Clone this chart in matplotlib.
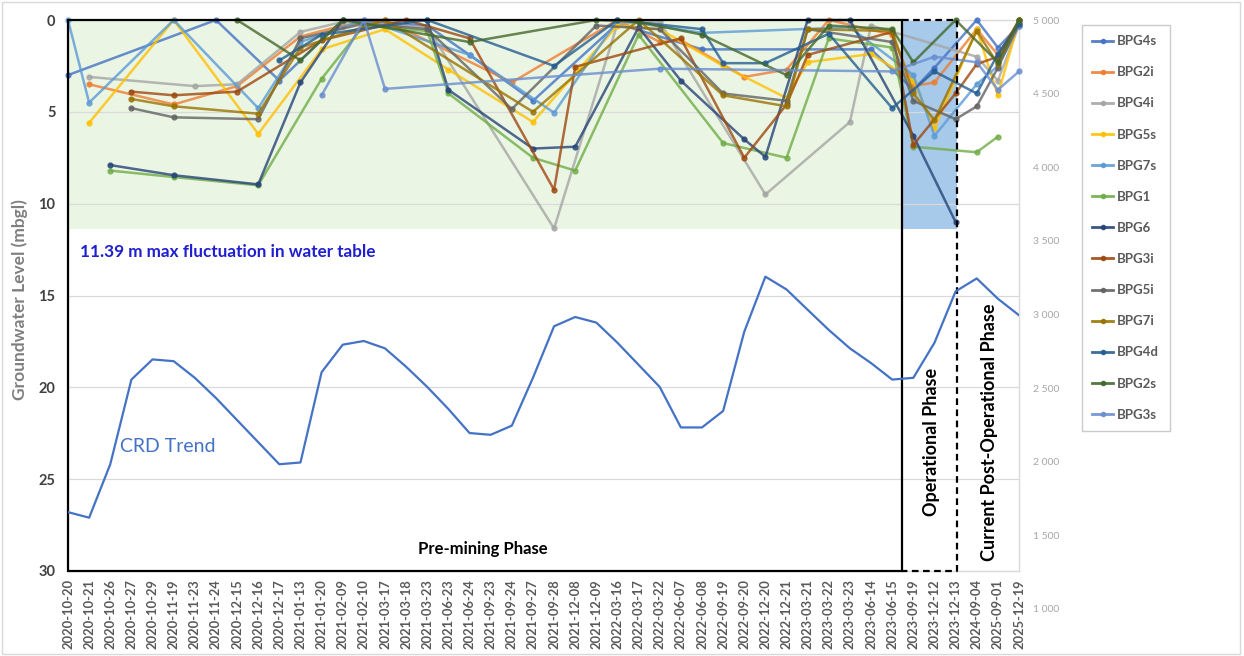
import numpy as np
import matplotlib
matplotlib.use("Agg")
import matplotlib.pyplot as plt
from matplotlib.patches import Rectangle
from matplotlib.lines import Line2D
from matplotlib.ticker import FuncFormatter

plt.rcParams['font.family'] = ['Lato', 'DejaVu Sans']

N = None

dates = ["2020-10-20", "2020-10-21", "2020-10-26", "2020-10-27", "2020-10-29",
         "2020-11-19", "2020-11-23", "2020-11-24", "2020-12-15", "2020-12-16",
         "2020-12-17", "2021-01-13", "2021-01-20", "2021-02-09", "2021-02-10",
         "2021-03-17", "2021-03-18", "2021-03-23", "2021-06-23", "2021-06-24",
         "2021-09-23", "2021-09-24", "2021-09-27", "2021-09-28", "2021-12-08",
         "2021-12-09", "2022-03-16", "2022-03-17", "2022-03-22", "2022-06-07",
         "2022-06-08", "2022-09-19", "2022-09-20", "2022-12-20", "2022-12-21",
         "2023-03-21", "2023-03-22", "2023-03-23", "2023-06-14", "2023-06-15",
         "2023-09-19", "2023-12-12", "2023-12-13", "2024-09-04", "2025-09-01",
         "2025-12-19"]

# groundwater level (m below ground), one value per date, None = not measured
BPG4s = [3.0, N, N, N, N, N, N, 0.0, N, N,
         3.3, N, N, 0.0, N, N, N, 0.3, N, 1.9,
         N, N, 4.4, N, N, N, 0.2, N, N, N,
         1.6, N, N, N, N, N, N, N, 1.6, N,
         3.8, 2.6, N, 0.0, 1.5, 0.3]
BPG2i = [N, 3.5, N, N, N, 4.6, N, N, 3.6, N,
         N, 0.9, N, 0.3, N, 0.0, N, N, N, N,
         N, 3.4, N, N, N, N, 0.0, N, 1.2, 1.1,
         N, N, 3.1, N, 2.7, N, 0.0, N, N, 0.8,
         3.6, 3.4, N, 0.5, 1.9, 0.1]
BPG4i = [N, 3.1, N, N, N, N, 3.6, N, 3.5, N,
         N, 0.65, N, 0.1, N, N, N, 0.4, N, N,
         N, N, N, 11.35, N, N, 0.2, N, 0.1, N,
         N, N, N, 9.5, N, N, N, 5.55, 0.3, N,
         N, N, N, 2.0, 3.3, 0.3]
BPG5s = [N, 5.6, N, N, N, 0.0, N, N, N, 6.2,
         N, N, 1.6, N, N, 0.5, N, N, 2.7, N,
         N, N, 5.55, N, N, N, 0.3, N, 0.5, N,
         N, 2.5, N, N, 4.25, 2.3, N, N, 1.85, N,
         3.3, 5.9, N, 0.5, 4.1, 0.0]
BPG7s = [0.0, 4.5, N, N, N, 0.0, N, N, N, 4.8,
         N, 1.2, N, N, 0.0, N, N, N, N, 1.9,
         N, N, N, 5.05, N, N, 0.0, N, N, N,
         0.7, N, N, N, N, N, N, 0.4, N, N,
         3.0, 6.3, N, 3.5, 2.5, 0.3]
BPG1 = [N, N, 8.2, N, N, 8.55, N, N, N, 9.0,
        N, N, 3.2, N, 0.3, N, N, 0.6, 4.0, N,
        N, N, 7.5, N, 8.2, N, N, 0.8, N, N,
        N, 6.7, N, N, 7.5, N, 1.0, N, N, 1.5,
        6.9, N, N, 7.2, 6.35, N]
BPG6 = [N, N, 7.9, N, N, 8.45, N, N, N, 8.95,
        N, 3.4, N, 0.0, N, N, N, 0.0, 3.8, N,
        N, N, 7.0, N, 6.9, N, N, 0.4, N, 3.3,
        N, N, 6.5, 7.45, N, 0.0, N, 0.0, N, N,
        6.3, N, 11.0, N, N, N]
BPG3i = [N, N, N, 3.9, N, 4.1, N, N, 3.9, N,
         N, N, 1.1, N, N, N, 0.0, N, N, 1.0,
         N, N, N, 9.25, 2.55, N, N, N, N, 1.0,
         N, N, 7.5, N, 4.6, 1.9, N, N, N, 0.65,
         6.8, N, 4.0, 2.4, 2.0, 0.0]
BPG5i = [N, N, N, 4.8, N, 5.3, N, N, N, 5.4,
         N, 1.0, N, N, 0.2, N, N, 0.5, N, N,
         N, 4.85, N, N, N, 0.3, N, N, 0.5, N,
         N, 4.0, N, N, 4.4, 0.5, N, N, N, 1.2,
         4.4, N, 5.4, 4.7, 2.6, 0.2]
BPG7i = [N, N, N, 4.3, N, 4.7, N, N, N, 5.1,
         N, 1.5, N, N, N, 0.0, N, N, N, N,
         N, N, 5.0, N, N, N, N, 0.0, N, N,
         N, 4.1, N, N, 4.7, 0.5, N, N, N, 0.6,
         4.0, 5.45, N, 0.6, 2.4, 0.0]
BPG4d = [N, N, N, N, N, N, N, N, N, N,
         2.2, N, 0.8, N, N, N, N, 0.0, N, N,
         N, N, N, 2.5, N, N, 0.0, N, N, N,
         0.5, 2.35, N, 2.35, N, N, 0.75, N, N, 4.8,
         N, 2.8, N, 4.0, 1.85, 0.2]
BPG2s = [N, N, N, N, N, N, N, N, 0.0, N,
         N, 2.2, N, 0.0, N, N, N, N, N, 1.2,
         N, N, N, N, N, 0.0, N, 0.1, N, N,
         0.8, N, N, N, 3.0, N, 0.3, N, N, 0.5,
         2.3, N, 0.0, N, 2.3, 0.0]
BPG3s = [N, N, N, N, N, N, N, N, N, N,
         N, N, 4.1, N, 0.0, 3.75, N, N, N, N,
         N, N, N, N, N, N, N, N, 2.65, N,
         N, N, N, N, N, N, N, N, N, 2.8,
         N, 2.0, N, 2.3, 3.8, 2.8]

# cumulative rainfall departure (secondary axis)
crd = [1658, 1620, 1983, 2558, 2695, 2683, 2570, 2433, 2283, 2133,
       1983, 1995, 2608, 2795, 2820, 2770, 2645, 2508, 2358, 2195,
       2183, 2245, 2570, 2920, 2983, 2945, 2808, 2658, 2508, 2233,
       2233, 2345, 2883, 3257, 3170, 3032, 2895, 2770, 2670, 2558,
       2570, 2808, 3157, 3245, 3107, 2995]

max_fluct = 11.39
premining_end = 39.47
operational_end = 42.07

series = [
    ("BPG4s", BPG4s, "#4472C4"),
    ("BPG2i", BPG2i, "#ED7D31"),
    ("BPG4i", BPG4i, "#A5A5A5"),
    ("BPG5s", BPG5s, "#FFC000"),
    ("BPG7s", BPG7s, "#5B9BD5"),
    ("BPG1", BPG1, "#70AD47"),
    ("BPG6", BPG6, "#264478"),
    ("BPG3i", BPG3i, "#9E480E"),
    ("BPG5i", BPG5i, "#636363"),
    ("BPG7i", BPG7i, "#997300"),
    ("BPG4d", BPG4d, "#255E91"),
    ("BPG2s", BPG2s, "#43682B"),
    ("BPG3s", BPG3s, "#698ED0"),
]

W, H = 1244, 656
fig = plt.figure(figsize=(W / 100, H / 100), dpi=100)

def fx(x):
    return x / W

def fy(y):
    return 1 - y / H

ax = fig.add_axes([fx(68), fy(571), fx(1019) - fx(68), fy(20) - fy(571)])
x = np.arange(len(dates))

# shaded phases
ax.add_patch(Rectangle((0, 0), premining_end, max_fluct, color="#EBF5E4", zorder=0, lw=0))
ax.add_patch(Rectangle((premining_end, 0), operational_end - premining_end, max_fluct,
                       color="#A7C9EA", zorder=0, lw=0))
for g in [5, 10, 15, 20, 25]:
    ax.axhline(g, color="#D9D9D9", lw=0.9, zorder=0.5)

for name, vals, col in series:
    y = np.array([np.nan if v is None else v for v in vals], dtype=float)
    m = ~np.isnan(y)
    ax.plot(x[m], y[m], color=col, lw=1.8, marker="o", ms=3.5, alpha=0.8,
            clip_on=False, zorder=3, label=name)

# phase boxes
ax.add_patch(Rectangle((0, 0), premining_end, 30, fill=False, ec="black", lw=1.6,
                       zorder=6, clip_on=False))
ax.plot([premining_end, operational_end, operational_end, premining_end], [0, 0, 30, 30],
        color="black", ls=(0, (3, 2)), lw=1.6, zorder=6, clip_on=False)

ax.set_xlim(0, 45)
ax.set_ylim(30, 0)
ax.set_yticks([0, 5, 10, 15, 20, 25, 30])
ax.set_xticks(x)
ax.set_xticklabels(dates, rotation=90, fontsize=9.3, color="#595959", fontweight="bold")
ax.tick_params(axis="y", length=0, labelsize=10.5, labelcolor="#404040", pad=9)
ax.tick_params(axis="x", length=0, pad=6)
for lbl in ax.get_yticklabels():
    lbl.set_fontweight("bold")
for s in ax.spines.values():
    s.set_color("#D9D9D9")
    s.set_linewidth(1.0)
ax.set_facecolor("white")

# secondary axis for CRD trend
ax2 = fig.add_axes([fx(68), fy(609), fx(1019) - fx(68), fy(20) - fy(609)])
ax2.patch.set_alpha(0)
ax2.plot(x, crd, color="#4472C4", lw=1.6, zorder=4)
ax2.set_xlim(0, 45)
ax2.set_ylim(1000, 5000)
ax2.set_yticks(np.arange(1000, 5001, 500))
ax2.yaxis.set_major_formatter(FuncFormatter(lambda v, p: f"{int(v):,}".replace(",", " ")))
ax2.yaxis.tick_right()
ax2.tick_params(axis="y", length=0, labelsize=7.5, labelcolor="#A6A6A6", pad=10)
ax2.set_xticks([])
for s in ax2.spines.values():
    s.set_visible(False)

fig.text(fx(20), fy(300), "Groundwater Level (mbgl)", rotation=90, ha="center", va="center",
         fontsize=12.5, fontweight="bold", color="#7F7F7F")
fig.text(fx(80), fy(252), "11.39 m max fluctuation in water table", ha="left", va="center",
         fontsize=12.3, fontweight="bold", color="#1F1FD0")
fig.text(fx(120), fy(446), "CRD Trend", ha="left", va="center", fontsize=14, color="#4472C4")
fig.text(fx(483), fy(549), "Pre-mining Phase", ha="center", va="center", fontsize=12,
         fontweight="bold", color="black")
fig.text(fx(931), fy(442), "Operational Phase", rotation=90, ha="center", va="center",
         fontsize=13, fontweight="bold", color="black")
fig.text(fx(990), fy(432), "Current Post-Operational Phase", rotation=90, ha="center",
         va="center", fontsize=13, fontweight="bold", color="black")

handles = [Line2D([0], [0], color=c, lw=2, marker="o", ms=3, alpha=0.9) for _, _, c in series]
leg = fig.legend(handles, [n for n, _, _ in series], loc="upper left",
                 bbox_to_anchor=(fx(1075), fy(18)), frameon=True, fancybox=False,
                 edgecolor="#BFBFBF", fontsize=9.5, labelspacing=1.45, handlelength=1.6,
                 handletextpad=0.3, borderpad=0.8)
for t in leg.get_texts():
    t.set_color("#595959")
    t.set_fontweight("bold")

fig.add_artist(Rectangle((0.002, 0.003), 0.995, 0.994, transform=fig.transFigure,
                         fill=False, ec="#D9D9D9", lw=1))

fig.savefig("out.png", dpi=100)
